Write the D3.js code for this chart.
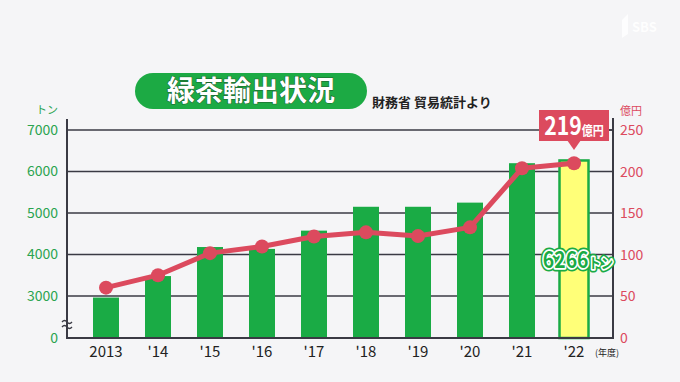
<!DOCTYPE html>
<html><head><meta charset="utf-8">
<script src="https://cdn.jsdelivr.net/npm/d3@7"></script>
<style>
html,body{margin:0;padding:0;background:#f5f5f7;}
svg{display:block;font-family:"Noto Sans CJK JP","Noto Sans",sans-serif;}
</style></head>
<body>
<svg id="c" width="680" height="382"></svg>
<script>
const years = ["2013","'14","'15","'16","'17","'18","'19","'20","'21","'22"];
const tons = [2890, 3480, 4180, 4135, 4575, 5150, 5150, 5250, 6200, 6266];
const okuYen = [60.5, 75.5, 102, 110, 122, 127, 122.5, 133, 204, 210];
const leftTicks = [0, 3000, 4000, 5000, 6000, 7000];
const rightTicks = [0, 50, 100, 150, 200, 250];
const title = "緑茶輸出状況";
const source = "財務省 貿易統計より";
const unitLeft = "トン", unitRight = "億円", unitX = "(年度)";
const calloutValue = "219", calloutUnit = "億円";
const tonLabel = "6266", tonUnit = "トン";

const GREEN = "#1aab45", RED = "#dc4a5e", YELLOW = "#ffff78", GRID = "#3a3a44";
const svg = d3.select("#c");
svg.append("rect").attr("width",680).attr("height",382).attr("fill","#f5f5f7");

const x0 = 67, x1 = 613, yb = 338;
const x = d3.scaleBand().domain(years).range([80, 600]).paddingInner(0.5).paddingOuter(0.25);
const yL = d3.scaleLinear().domain([0, 3000, 7000]).range([yb, 296, 130]);
const yR = d3.scaleLinear().domain([0, 250]).range([yb, 130]);

// gridlines
svg.append("g").selectAll("line").data(leftTicks.filter(d=>d>0)).join("line")
  .attr("x1",x0).attr("x2",x1).attr("y1",d=>yL(d)).attr("y2",d=>yL(d))
  .attr("stroke",GRID).attr("stroke-width",1.4);

// bars
const bw = x.bandwidth();
svg.append("g").selectAll("rect").data(years.map((y,i)=>({y,v:tons[i],i}))).join("rect")
  .attr("x",d=>d.i===9? x(d.y)-1.5 : x(d.y))
  .attr("width",d=>d.i===9? bw+3 : bw)
  .attr("y",d=>yL(d.v))
  .attr("height",d=>yb-yL(d.v))
  .attr("fill",d=>d.i===9?YELLOW:GREEN)
  .attr("stroke",d=>d.i===9?GREEN:"none")
  .attr("stroke-width",2.5);

// axes
const axL = svg.append("g").attr("transform",`translate(${x0},0)`)
  .call(d3.axisLeft(yL).tickValues(leftTicks).tickFormat(d3.format("d")).tickSize(0).tickPadding(9));
axL.select(".domain").remove();
axL.selectAll("text").attr("fill","#2aa450").attr("font-size",14).attr("font-family","'Noto Sans CJK JP',sans-serif");
const axR = svg.append("g").attr("transform",`translate(${x1},0)`)
  .call(d3.axisRight(yR).tickValues(rightTicks).tickFormat(d3.format("d")).tickSize(0).tickPadding(7));
axR.select(".domain").remove();
axR.selectAll("text").attr("fill",RED).attr("font-size",14).attr("font-family","'Noto Sans CJK JP',sans-serif");
const axB = svg.append("g").attr("transform",`translate(0,${yb})`)
  .call(d3.axisBottom(x).tickSize(0).tickPadding(8));
axB.select(".domain").remove();
axB.selectAll("text").attr("fill","#222").attr("font-size",15).attr("font-family","'Noto Sans CJK JP',sans-serif");

svg.append("line").attr("x1",x0).attr("x2",x0).attr("y1",119).attr("y2",yb+0.5).attr("stroke",GRID).attr("stroke-width",2);
svg.append("line").attr("x1",x1).attr("x2",x1).attr("y1",118).attr("y2",yb+0.5).attr("stroke",GRID).attr("stroke-width",2);
svg.append("line").attr("x1",x0-1).attr("x2",x1+1).attr("y1",yb).attr("y2",yb).attr("stroke",GRID).attr("stroke-width",2);
svg.append("line").attr("x1",x1-5).attr("x2",x1).attr("y1",yR(250)).attr("y2",yR(250)).attr("stroke",GRID).attr("stroke-width",1.4);

// axis break mark
const brk = svg.append("g").attr("transform",`translate(${x0},${(yL(0)+yL(3000))/2+6})`);
[-2.5,2.5].forEach(o=>{
  brk.append("path").attr("d",`M-5,${o+1.5} q2.5,-3 5,0 t5,0`).attr("fill","none").attr("stroke",GRID).attr("stroke-width",1.3);
});

// unit labels
svg.append("text").attr("x",58).attr("y",114).attr("text-anchor","end").attr("font-size",11).attr("fill","#2aa450").text(unitLeft);
svg.append("text").attr("x",620).attr("y",115).attr("font-size",11).attr("fill",RED).text(unitRight);
svg.append("text").attr("x",x(years[9])+x.bandwidth()+8).attr("y",356).attr("font-size",9).attr("fill","#222").text(unitX);

// line
const pts = years.map((y,i)=>[x(y)+bw/2, yR(okuYen[i])]);
svg.append("path").attr("d",d3.line()(pts)).attr("fill","none").attr("stroke",RED).attr("stroke-width",5).attr("stroke-linejoin","round");
svg.append("g").selectAll("circle").data(pts).join("circle")
  .attr("cx",d=>d[0]).attr("cy",d=>d[1]).attr("r",7).attr("fill",RED);

// callout 219億円
const cx = x(years[9])+bw/2;
const cg = svg.append("g");
cg.append("rect").attr("x",cx-35).attr("y",110).attr("width",70).attr("height",31).attr("fill",RED);
cg.append("path").attr("d",`M${cx-7},140 L${cx+7},140 L${cx},150 Z`).attr("fill",RED);
const ct = cg.append("text").attr("transform",`translate(${cx},135) scale(0.85,1)`).attr("text-anchor","middle").attr("fill","#fff").attr("font-weight","bold");
ct.append("tspan").attr("font-size",25).text(calloutValue);
ct.append("tspan").attr("font-size",13).text(calloutUnit);

// 6266トン label
const tg = svg.append("g").attr("transform",`translate(578,268) scale(0.88,1)`);
[["#1aab45",7],["#ffffff",3.5]].forEach(([c,w])=>{
  const t = tg.append("text").attr("text-anchor","middle").attr("font-weight","bold")
    .attr("fill",c).attr("stroke",c).attr("stroke-width",w).attr("stroke-linejoin","round");
  t.append("tspan").attr("font-size",22).text(tonLabel);
  t.append("tspan").attr("font-size",14).text(tonUnit);
});
const tf = tg.append("text").attr("text-anchor","middle").attr("font-weight","bold").attr("fill","#1aab45");
tf.append("tspan").attr("font-size",22).text(tonLabel);
tf.append("tspan").attr("font-size",14).text(tonUnit);

// title pill
svg.append("rect").attr("x",135).attr("y",73).attr("width",232).attr("height",36).attr("rx",18).attr("fill","#1caa44");
svg.append("text").attr("x",251).attr("y",101).attr("text-anchor","middle").attr("font-size",28).attr("font-weight","bold")
  .attr("fill","#fff").attr("stroke","#1d5e2c").attr("stroke-width",1).attr("paint-order","stroke").text(title);
svg.append("text").attr("x",372).attr("y",107).attr("font-size",13).attr("font-weight","bold").attr("fill","#222").text(source);

// logo
svg.append("text").attr("x",632).attr("y",32).attr("font-size",13).attr("font-weight","bold").attr("fill","#fff").attr("opacity",0.9).text("SBS");
svg.append("path").attr("d","M622,20 L628,14 L628,34 L622,38 Z").attr("fill","#fff").attr("opacity",0.8);
</script>
</body></html>
